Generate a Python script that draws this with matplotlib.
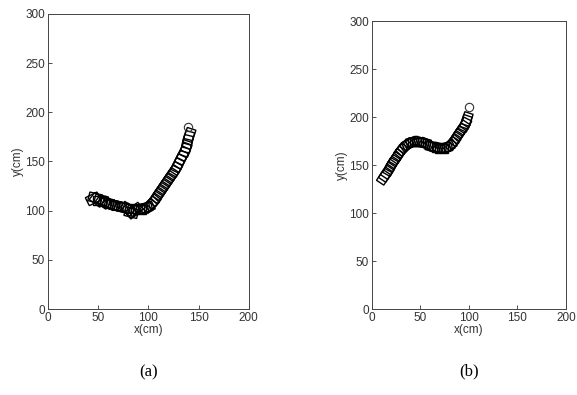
import numpy as np
import matplotlib
matplotlib.use("Agg")
import matplotlib.pyplot as plt
from matplotlib.patches import Rectangle

# trajectory (a): robot centre positions in cm
xa = [45, 47, 49, 51, 53, 55, 57, 59, 61, 63, 65, 67, 69, 71, 73, 75, 77, 79,
      81, 83, 85, 87, 89, 91, 93, 95, 97, 99, 101, 103, 105, 107, 109, 111,
      113, 115, 117, 119, 121, 123, 125, 127, 129, 131, 133, 135, 137, 138,
      139, 140, 141]
ya = [112, 113, 111, 110, 111, 109, 108, 108, 107, 106, 106, 105, 105, 104,
      104, 103, 103, 102, 100, 98, 99, 101, 102, 101, 102, 102, 103, 103, 105,
      107, 109, 112, 115, 118, 121, 124, 127, 130, 133, 136, 139, 142, 146,
      150, 154, 158, 162, 166, 170, 174, 177]
goal_a = (139, 185)

# trajectory (b)
xb = [12, 14, 16, 18, 20, 22, 24, 26, 28, 30, 32, 34, 36, 38, 40, 42, 44, 46,
      48, 50, 52, 54, 56, 58, 60, 62, 64, 66, 68, 70, 72, 74, 76, 78, 80, 82,
      84, 86, 88, 90, 92, 94, 96, 97, 98]
yb = [137, 140, 143, 146, 150, 153, 156, 159, 162, 165, 167, 169, 171, 172,
      173, 174, 174, 174, 174, 174, 173, 173, 172, 171, 170, 169, 169, 168,
      168, 168, 167, 168, 168, 169, 170, 172, 174, 177, 180, 183, 186, 189,
      192, 195, 198]
goal_b = (100, 210)

BODY_L, BODY_W = 13, 9  # footprint drawn at each sample, cm


def draw_path(ax, xs, ys, goal, caption):
    xs = np.asarray(xs, float)
    ys = np.asarray(ys, float)
    heading = np.degrees(np.arctan2(np.gradient(ys), np.gradient(xs)))
    for x, y, ang in zip(xs, ys, heading):
        ax.add_patch(Rectangle((x - BODY_L / 2, y - BODY_W / 2), BODY_L, BODY_W,
                               angle=ang, rotation_point='center',
                               fill=False, ec='black', lw=1.0))
    ax.plot([goal[0]], [goal[1]], 'o', mfc='none', mec='#333333', ms=6, mew=0.8)
    ax.set_xlim(0, 200)
    ax.set_ylim(0, 300)
    ax.set_xticks([0, 50, 100, 150, 200])
    ax.set_yticks([0, 50, 100, 150, 200, 250, 300])
    ax.tick_params(direction='in', length=3, labelsize=8.5, colors='#333333',
                   width=0.6, pad=2)
    for s in ax.spines.values():
        s.set_color('#444444')
        s.set_linewidth(0.7)
    ax.set_xlabel('x(cm)', fontsize=8.5, color='#333333', labelpad=0)
    ax.set_ylabel('y(cm)', fontsize=8.5, color='#333333', labelpad=1)
    ax.text(0.5, -0.215, caption, transform=ax.transAxes, ha='center', va='center',
            fontsize=12, family='Liberation Serif')


plt.rcParams['font.family'] = ['Liberation Sans', 'DejaVu Sans']
fig = plt.figure(figsize=(5.77, 3.95), dpi=100)
ax1 = fig.add_axes([0.0832, 0.2177, 0.348, 0.747])
ax2 = fig.add_axes([0.6447, 0.2177, 0.336, 0.729])

draw_path(ax1, xa, ya, goal_a, '(a)')
draw_path(ax2, xb, yb, goal_b, '(b)')

fig.savefig('out.png', dpi=100)
